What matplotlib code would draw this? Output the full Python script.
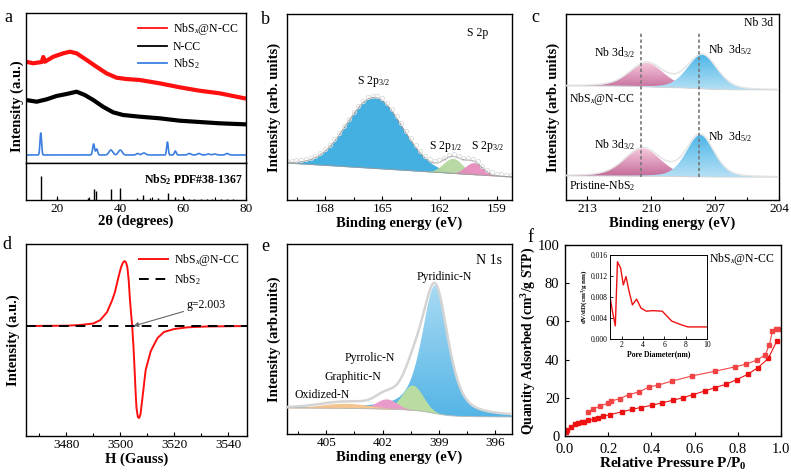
import numpy as np
import matplotlib
matplotlib.use("Agg")
import matplotlib.pyplot as plt
from matplotlib.colors import LinearSegmentedColormap
from matplotlib.lines import Line2D

plt.rcParams['font.family'] = ['Liberation Serif', 'DejaVu Serif']
plt.rcParams['mathtext.fontset'] = 'custom'
plt.rcParams['mathtext.rm'] = 'Liberation Serif'
plt.rcParams['mathtext.it'] = 'Liberation Serif:italic'
plt.rcParams['mathtext.bf'] = 'Liberation Serif:bold'
plt.rcParams['axes.linewidth'] = 1.0

# ---------------- data ----------------
# a: XRD
xrd_nbsx_tt = [10.0, 12.3, 15.0, 15.5, 16.0, 18.7, 21.9, 24.0, 26.1, 29.3, 32.4, 35.6, 38.8, 41.9, 46.2, 52.5, 58.9, 65.2, 71.6, 79.5, 80.0]
xrd_nbsx_i = [101.3, 99.7, 101, 106, 101.3, 106.3, 109.7, 111.3, 109.7, 103, 96.3, 89.7, 85.3, 84, 83, 79.7, 75.7, 72.3, 69.7, 64.7, 64.5]
xrd_ncc_tt = [10.0, 13.4, 16.6, 19.7, 22.9, 26.1, 28.7, 31.4, 34.5, 37.7, 40.9, 46.2, 52.5, 58.9, 65.2, 71.6, 79.5, 80.0]
xrd_ncc_i = [63, 61.3, 63.7, 67, 69, 71.3, 68, 63, 56.3, 50.7, 48, 46.3, 44.7, 42.3, 41, 39.7, 38.7, 38.6]
nbs2_base = 8.0
nbs2_pos = [14.7, 31.5, 32.5, 37.0, 40.0, 45.5, 47.5, 55.0, 57.5, 62.0, 65.0, 68.0, 70.0, 74.0]
nbs2_h = [22, 11, 6, 5, 5, 1.5, 2, 13, 4, 1.5, 1.5, 1, 1, 1.5]
nbs2_w = [0.25, 0.3, 0.3, 0.6, 0.6, 0.4, 0.6, 0.25, 0.3, 0.5, 0.5, 0.5, 0.5, 0.5]
pdf_pos = [14.7, 20.0, 29.8, 31.5, 32.4, 37.0, 40.0, 45.2, 47.3, 49.5, 52.0, 55.2, 57.3, 58.5, 60.2, 62.0, 63.5, 65.8, 67.5, 69.2, 72.0, 74.0, 76.0]
pdf_h = [24, 2, 2, 11, 9, 11, 12, 2, 5, 2, 2, 7, 3, 1.5, 2, 1.5, 1, 1.5, 1, 1.5, 1, 1.5, 1]

# b: S 2p  (center, height, width)
s2p_c = [165.4, 161.3, 160.2]
s2p_h = [71, 15, 12]
s2p_w = [1.45, 0.5, 0.45]
s2p_base = [23, 37]          # low-BE end, high-BE end

# c: Nb 3d  (top: NbSx@N-CC, bottom: pristine)
nb_top_c = [210.2, 207.6]
nb_top_h = [24, 34]
nb_top_w = [0.8, 0.7]
nb_top_base = [110, 114]
nb_bot_c = [210.4, 207.7]
nb_bot_h = [28, 42]
nb_bot_w = [0.85, 0.65]
nb_bot_base = [22.7, 24]
nb_lines = [210.5, 207.75]

# d: EPR
epr_h = [3465, 3480, 3485, 3490, 3492.6, 3495.1, 3497.0, 3498.0, 3498.8, 3499.6, 3500.3, 3501.0, 3501.6, 3502.1,
         3502.6, 3503.1, 3503.5, 3504.0, 3504.4, 3504.9, 3505.3, 3505.7, 3506.0, 3506.5, 3507.0, 3507.5,
         3508.2, 3509.4, 3511.3, 3513.8, 3516.2, 3520, 3525, 3532, 3547]
epr_i = [0, 0.3, 1, 2.5, 6, 14, 26, 34, 43, 52, 59, 63.5, 65, 63.5,
         59, 46, 29, 12, 0, -22, -44, -68, -82, -91, -92, -88,
         -72, -44, -25, -12, -6, -3, -1.3, -0.5, 0]

# e: N 1s
n1s_c = [399.2, 400.4, 401.8, 404.0]
n1s_h = [128, 25, 10, 5]
n1s_w = [0.7, 0.55, 0.55, 1.3]
n1s_eta = [0.55, 0.0, 0.0, 0.0]
n1s_base = [17, 26]

# f: BET isotherm
ads_p = [0.003, 0.008, 0.026, 0.046, 0.062, 0.077, 0.09, 0.108, 0.134, 0.151, 0.177, 0.208, 0.262, 0.312,
         0.35, 0.401, 0.448, 0.498, 0.548, 0.594, 0.648, 0.694, 0.745, 0.795, 0.846, 0.892, 0.941, 0.98]
ads_q = [2.2, 2.9, 4.7, 6.1, 6.8, 7.2, 7.3, 8.2, 8.7, 9.3, 10.3, 11.2, 12.6, 14.0,
         14.9, 16.1, 17.3, 18.7, 20.1, 21.7, 23.6, 25.3, 27.1, 29.5, 32.3, 35.7, 40.6, 49.6]
des_p = [0.99, 0.975, 0.96, 0.946, 0.926, 0.887, 0.838, 0.787, 0.694, 0.59, 0.497, 0.43, 0.39,
         0.343, 0.296, 0.255, 0.211, 0.2, 0.162, 0.131, 0.108]
des_q = [55.8, 55.8, 55.0, 47.6, 42.3, 39.7, 37.6, 36.2, 33.9, 31.5, 28.8, 26.6, 25.7,
         23.1, 21.7, 19.6, 18.2, 17.3, 15.6, 14.3, 12.6]
pore_d = [0.9, 1.1, 1.4, 1.6, 1.9, 2.15, 2.4, 2.7, 3.0, 3.4, 3.8, 4.3, 4.9, 5.8, 6.7, 7.6, 8.2, 10.0]
pore_v = [0.0081, 0.0056, 0.0025, 0.0147, 0.0135, 0.0103, 0.0119, 0.0090, 0.0065, 0.0076, 0.0059,
          0.0053, 0.0054, 0.0053, 0.0034, 0.0027, 0.0023, 0.0023]

W, H = 791, 472
fig = plt.figure(figsize=(W / 100, H / 100), dpi=100)


def add(x0, y0, x1, y1):
    return fig.add_axes([x0 / W, 1 - y1 / H, (x1 - x0) / W, (y1 - y0) / H])


def peak(x, c, h, w, eta=0.0):
    g = np.exp(-0.5 * ((x - c) / w) ** 2)
    l = 1.0 / (1.0 + ((x - c) / (1.1774 * w)) ** 2)
    return h * ((1 - eta) * g + eta * l)


def shirley(x, total, lo, hi):
    cum = np.cumsum(total)
    return lo + (hi - lo) * cum / cum[-1]


def grad_fill(ax, x, y0, y1, c_top, c_bot, z=2):
    poly = ax.fill_between(x, y0, y1, color='none', lw=0, zorder=z)
    cmap = LinearSegmentedColormap.from_list('g', [c_bot, c_top])
    ymin, ymax = np.min(y0), np.max(y1)
    img = ax.imshow(np.linspace(0, 1, 64).reshape(-1, 1), cmap=cmap, aspect='auto', origin='lower',
                    extent=[x.min(), x.max(), ymin, ymax], zorder=z, interpolation='bilinear')
    img.set_clip_path(poly.get_paths()[0], ax.transData)


def style(ax, size=9.5):
    ax.tick_params(direction='in', length=3, width=0.8, labelsize=size, pad=2)
    ax.tick_params(which='minor', direction='in', length=2, width=0.8)
    ax.set_yticks([])


lab = dict(fontweight='bold', fontsize=10.5)
txt = dict(fontsize=8.5, ha='center', va='center')

# ---------------- a ----------------
axa = add(26, 13, 246, 163)
axa2 = add(26, 163, 246, 200)
axa.plot(xrd_nbsx_tt, xrd_nbsx_i, color='#ff1010', lw=3.0)
axa.plot(xrd_ncc_tt, xrd_ncc_i, color='black', lw=3.0)
tt = np.linspace(10, 80, 1400)
nb = nbs2_base + sum(peak(tt, c, h, w) for c, h, w in zip(nbs2_pos, nbs2_h, nbs2_w))
axa.plot(tt, nb, color='#3c7fe0', lw=1.2)
axa.set_xlim(10, 80)
axa.set_ylim(0, 150)
axa.set_xticks([])
axa.set_yticks([])
hand = [Line2D([], [], color='#ff1010', lw=1.3), Line2D([], [], color='black', lw=1.3),
        Line2D([], [], color='#3c7fe0', lw=1.3)]
axa.legend(hand, ['NbS$_\\mathit{x}$@N-CC', 'N-CC', 'NbS$_2$'], loc='upper right', frameon=False,
           fontsize=8.5, handlelength=2.4, labelspacing=0.3, borderaxespad=0.3, handletextpad=0.5)
axa2.vlines(pdf_pos, 0, pdf_h, color='black', lw=1.0)
axa2.set_xlim(10, 80)
axa2.set_ylim(0, 37)
style(axa2)
axa2.set_xticks([20, 40, 60, 80])
axa2.set_xticks([30, 50, 70], minor=True)
axa2.text(0.985, 0.55, 'NbS$_\\mathbf{2}$ PDF#38-1367', transform=axa2.transAxes, ha='right', va='center',
          fontsize=8.5, fontweight='bold')
axa2.set_xlabel('2θ (degrees)', labelpad=0, **lab)
fig.text(17 / W, 1 - 106 / H, 'Intensity (a.u.)', rotation=90, ha='center', va='center', **lab)

# ---------------- b ----------------
axb = add(287, 14, 512, 200)
eb = np.linspace(158, 170.5, 900)
comps = [peak(eb, c, h, w) for c, h, w in zip(s2p_c, s2p_h, s2p_w)]
base_b = s2p_base[0] + (s2p_base[1] - s2p_base[0]) * (eb - 158.2) / (170 - 158.2)
for comp, col in zip(comps, ['#3aace1', '#b4d79f', '#e68cbe']):
    axb.fill_between(eb, base_b, base_b + comp, color=col, lw=0, alpha=0.95)
env_b = base_b + sum(comps)
axb.plot(eb, env_b, color='#9a9a9a', lw=0.8)
axb.plot(eb[::18], env_b[::18] + 2, 'o', ms=3, mfc='none', mec='#dadada', mew=0.6)
axb.plot(eb, base_b, color='#9a9a9a', lw=0.6)
axb.set_xlim(170, 158.2)
axb.set_ylim(0, 186)
style(axb)
axb.set_xticks([168, 165, 162, 159])
axb.set_xticks([169.5, 166.5, 163.5, 160.5], minor=True)
axb.set_xlabel('Binding energy (eV)', labelpad=1, **lab)
axb.set_ylabel('Intensity (arb. units)', labelpad=4, **lab)
axb.text(165.45, 118, 'S 2p$_{3/2}$', **txt)
axb.text(161.7, 54, 'S 2p$_{1/2}$', **txt)
axb.text(159.5, 54, 'S 2p$_{3/2}$', **txt)
axb.text(160.0, 167, 'S 2p', **txt)

# ---------------- c ----------------
axc = add(566, 14, 779, 200)
ec = np.linspace(204, 214, 800)
for cs, hs, ws, bs in [(nb_top_c, nb_top_h, nb_top_w, nb_top_base), (nb_bot_c, nb_bot_h, nb_bot_w, nb_bot_base)]:
    pk = [peak(ec, c, h, w, 0.3) for c, h, w in zip(cs, hs, ws)]
    base = shirley(ec, sum(pk), bs[0], bs[1])
    grad_fill(axc, ec, base, base + pk[0], '#f6c8dc', '#c46a98', z=2)
    grad_fill(axc, ec, base, base + pk[1], '#4db6e8', '#b5e0f4', z=3)
    axc.plot(ec, base + sum(pk), color='#e4e4e4', lw=1.0, zorder=4)
    axc.plot(ec, base, color='#d8d8d8', lw=0.6, zorder=4)
for v in nb_lines:
    axc.plot([v, v], [23, 167], ls=(0, (2, 1.5)), color='#777777', lw=1.2, zorder=5)
axc.set_xlim(214, 204)
axc.set_ylim(0, 186)
style(axc)
axc.set_xticks([213, 210, 207, 204])
axc.set_xticks([211.5, 208.5, 205.5], minor=True)
axc.set_xlabel('Binding energy (eV)', labelpad=1, **lab)
axc.set_ylabel('Intensity (arb. units)', labelpad=4, **lab)
axc.text(211.7, 147, 'Nb 3d$_{3/2}$', **txt)
axc.text(206.3, 150, 'Nb  3d$_{5/2}$', **txt)
axc.text(211.7, 55, 'Nb 3d$_{3/2}$', **txt)
axc.text(206.3, 63, 'Nb  3d$_{5/2}$', **txt)
axc.text(213.85, 101, 'NbS$_\\mathit{x}$@N-CC', fontsize=8.5, ha='left', va='center')
axc.text(213.85, 14, 'Pristine-NbS$_2$', fontsize=8.5, ha='left', va='center')
axc.text(204.3, 177, 'Nb 3d', fontsize=8.5, ha='right', va='center')

# ---------------- d ----------------
axd = add(26, 244, 247, 436)
axd.plot(epr_h, epr_i, color='#ff1010', lw=1.4, label='NbS$_\\mathit{x}$@N-CC')
axd.plot([3465, 3547], [0, 0], color='black', ls=(0, (5, 3.5)), lw=1.4, label='NbS$_2$')
axd.annotate('g=2.003', xy=(3504.9, 0), xytext=(3524.5, 21), fontsize=8.5, va='center',
             arrowprops=dict(arrowstyle='-|>', color='#666666', lw=0.8, mutation_scale=7, shrinkA=0, shrinkB=0))
axd.set_xlim(3465, 3547)
axd.set_ylim(-110, 82)
style(axd)
axd.set_xticks([3480, 3500, 3520, 3540])
axd.set_xticks([3470, 3490, 3510, 3530], minor=True)
axd.legend(loc='upper right', frameon=False, fontsize=8.5, handlelength=2.4, labelspacing=0.3,
           borderaxespad=0.3, handletextpad=0.5)
axd.set_xlabel('H (Gauss)', labelpad=1, **lab)
axd.set_ylabel('Intensity (a.u.)', labelpad=4, **lab)

# ---------------- e ----------------
axe = add(287, 244, 512, 434)
ee = np.linspace(395, 407.2, 900)
pk = [peak(ee, c, h, w, et) for c, h, w, et in zip(n1s_c, n1s_h, n1s_w, n1s_eta)]
base_e = shirley(ee, sum(pk), n1s_base[0], n1s_base[1])
grad_fill(axe, ee, base_e, base_e + pk[0], '#a8daf3', '#55b5e6', z=2)
for comp, col in zip(pk[1:], ['#b9dca0', '#e99bc9', '#f5c48f']):
    axe.fill_between(ee, base_e, base_e + comp, color=col, lw=0, zorder=3)
axe.plot(ee, base_e + sum(pk), color='#d4d4d4', lw=1.8, zorder=4)
axe.plot(ee, base_e, color='#b8b8b8', lw=0.6, zorder=4)
axe.set_xlim(407.1, 395.1)
axe.set_ylim(0, 190)
style(axe)
axe.set_xticks([405, 402, 399, 396])
axe.set_xticks([406.5, 403.5, 400.5, 397.5], minor=True)
axe.set_xlabel('Binding energy (eV)', labelpad=1, **lab)
axe.set_ylabel('Intensity (arb.units)', labelpad=4, **lab)
axe.text(396.3, 173, 'N 1s', fontsize=10, ha='center', va='center')
axe.text(398.7, 157, 'Pyridinic-N', **txt)
axe.text(402.7, 76, 'Pyrrolic-N', **txt)
axe.text(403.6, 57, 'Graphitic-N', **txt)
axe.text(405.2, 39, 'Oxidized-N', **txt)

# ---------------- f ----------------
axf = add(565, 245, 781, 436)
axf.plot(ads_p, ads_q, 's-', color='#ee1111', ms=3.5, lw=0.8)
axf.plot(des_p, des_q, 's-', color='#f24444', ms=3.5, lw=0.8)
axf.set_xlim(0, 1.0)
axf.set_ylim(0, 100)
axf.tick_params(direction='in', length=3, width=0.8, labelsize=10.5, pad=4)
axf.tick_params(axis='x', pad=5)
axf.set_xticks([0, 0.2, 0.4, 0.6, 0.8, 1.0])
axf.set_xticklabels(['0.0', '0.2', '0.4', '0.6', '0.8', '1.0'])
axf.set_yticks([0, 20, 40, 60, 80, 100])
axf.set_xlabel('Relative Pressure P/P$_\\mathbf{0}$', labelpad=0, fontweight='bold', fontsize=11)
axf.set_ylabel('Quantity Adsorbed (cm$^\\mathbf{3}$/g STP)', labelpad=0, fontweight='bold', fontsize=9.8)
axf.text(0.97, 0.925, 'NbS$_\\mathit{x}$@N-CC', transform=axf.transAxes, fontsize=8.5, ha='right', va='center')

axi = add(610, 255, 707, 339)
axi.plot(pore_d, pore_v, color='#ee1111', lw=1.0)
axi.set_xlim(0.9, 10)
axi.set_ylim(0, 0.016)
axi.tick_params(direction='in', length=2, width=0.6, labelsize=5.5, pad=1.5)
axi.set_xticks([2, 4, 6, 8, 10])
axi.set_yticks([0, 0.004, 0.008, 0.012, 0.016])
axi.set_yticklabels(['0.000', '0.004', '0.008', '0.012', '0.016'])
for s in axi.spines.values():
    s.set_linewidth(0.7)
axi.set_xlabel('Pore Diameter(nm)', fontsize=5.5, fontweight='bold', labelpad=1)
axi.set_ylabel('dV/dD(cm$^\\mathbf{3}$/g nm)', fontsize=5, fontweight='bold', labelpad=1)

# panel letters
for t, x, y in [('a', 8, 17), ('b', 265, 20), ('c', 535, 17), ('d', 7, 245), ('e', 265, 246), ('f', 530, 237)]:
    fig.text(x / W, 1 - y / H, t, fontsize=13, ha='center', va='center')

fig.savefig('out.png', dpi=100)
